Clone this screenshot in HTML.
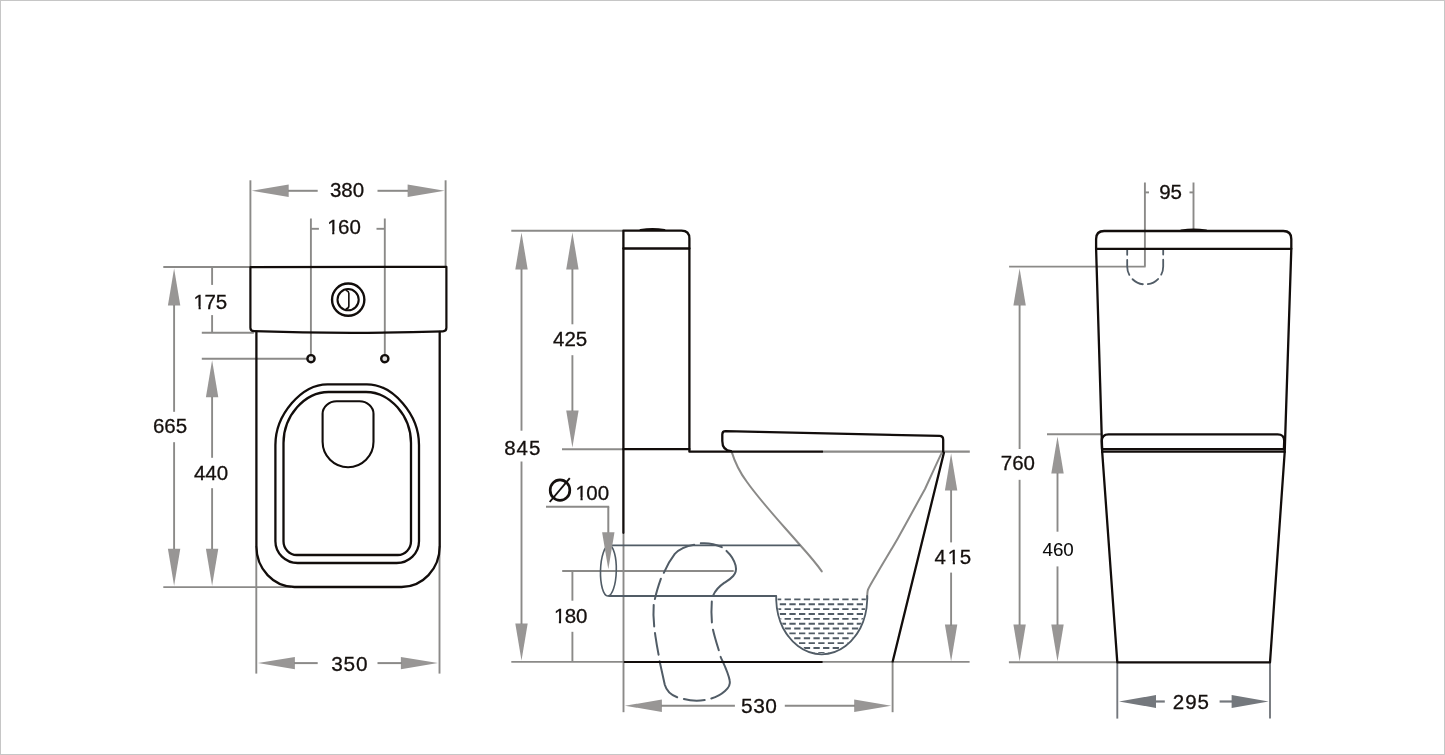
<!DOCTYPE html>
<html>
<head>
<meta charset="utf-8">
<title>Toilet dimensions</title>
<style>
html, body { margin: 0; padding: 0; background: #ffffff; }
body { width: 1445px; height: 755px; overflow: hidden; position: relative; }
#frame { position: absolute; left: 0; top: 0; width: 1443px; height: 753px; border: 1px solid #c6c6c6; }
svg { position: absolute; left: 0; top: 0; display: block; }
svg text { font-family: "Liberation Sans", sans-serif; }
svg { will-change: transform; opacity: 0.999; }
</style>
</head>
<body>
<div id="frame"></div>
<svg width="1445" height="755" viewBox="0 0 1445 755">
<line x1="250.4" y1="180.3" x2="250.4" y2="267" stroke="#8b8a88" stroke-width="1.9"/>
<line x1="445.6" y1="180.3" x2="445.6" y2="267" stroke="#8b8a88" stroke-width="1.9"/>
<polygon points="251.70,190.80 288.70,184.60 288.70,197.00" fill="#989695"/>
<line x1="288" y1="190.8" x2="317.7" y2="190.8" stroke="#8b8a88" stroke-width="2.0"/>
<polygon points="444.60,190.80 407.60,184.60 407.60,197.00" fill="#989695"/>
<line x1="377.5" y1="190.8" x2="408" y2="190.8" stroke="#8b8a88" stroke-width="2.0"/>
<line x1="310.9" y1="218.5" x2="310.9" y2="355" stroke="#8b8a88" stroke-width="1.9"/>
<line x1="384.8" y1="218.5" x2="384.8" y2="355" stroke="#8b8a88" stroke-width="1.9"/>
<line x1="310.9" y1="228.8" x2="318.9" y2="228.8" stroke="#8b8a88" stroke-width="1.9"/>
<line x1="376.5" y1="228.8" x2="384.8" y2="228.8" stroke="#8b8a88" stroke-width="1.9"/>
<line x1="163.3" y1="267.0" x2="250.4" y2="267.0" stroke="#8b8a88" stroke-width="1.9"/>
<line x1="201.8" y1="332.7" x2="253.8" y2="332.7" stroke="#8b8a88" stroke-width="1.9"/>
<line x1="201.8" y1="358.8" x2="307" y2="358.8" stroke="#8b8a88" stroke-width="1.9"/>
<line x1="163.3" y1="587.1" x2="291" y2="587.1" stroke="#8b8a88" stroke-width="1.9"/>
<polygon points="174.10,268.40 167.90,305.40 180.30,305.40" fill="#989695"/>
<line x1="174.1" y1="305" x2="174.1" y2="411.8" stroke="#8b8a88" stroke-width="1.9"/>
<polygon points="174.10,585.80 167.90,548.80 180.30,548.80" fill="#989695"/>
<line x1="174.1" y1="442.2" x2="174.1" y2="549" stroke="#8b8a88" stroke-width="1.9"/>
<line x1="212.1" y1="267" x2="212.1" y2="284.9" stroke="#8b8a88" stroke-width="1.9"/>
<line x1="212.1" y1="315.1" x2="212.1" y2="332.7" stroke="#8b8a88" stroke-width="1.9"/>
<polygon points="212.10,360.30 205.90,397.30 218.30,397.30" fill="#989695"/>
<line x1="212.1" y1="396.8" x2="212.1" y2="457.8" stroke="#8b8a88" stroke-width="1.9"/>
<polygon points="212.10,585.80 205.90,548.80 218.30,548.80" fill="#989695"/>
<line x1="212.1" y1="488.2" x2="212.1" y2="549" stroke="#8b8a88" stroke-width="1.9"/>
<line x1="256.3" y1="546" x2="256.3" y2="673.6" stroke="#8b8a88" stroke-width="1.9"/>
<line x1="439.5" y1="546" x2="439.5" y2="673.6" stroke="#8b8a88" stroke-width="1.9"/>
<polygon points="257.90,663.10 294.90,656.90 294.90,669.30" fill="#989695"/>
<line x1="294" y1="663.1" x2="317.7" y2="663.1" stroke="#8b8a88" stroke-width="2.0"/>
<polygon points="437.90,663.10 400.90,656.90 400.90,669.30" fill="#989695"/>
<line x1="377.5" y1="663.1" x2="402" y2="663.1" stroke="#8b8a88" stroke-width="2.0"/>
<path d="M250.4,267.2 L446.4,266.8 L446.4,327.8 Q446.4,331.3 442.9,331.4 Q348,334.3 253.9,331.2 Q250.4,331.1 250.4,327.8 Z" fill="none" stroke="#120d0b" stroke-width="2.2" stroke-linecap="round" stroke-linejoin="round" />
<path d="M256.40,332.00 L256.40,546.50 C256.40,568.77 273.54,587.00 294.50,587.00 L401.60,587.00 C422.55,587.00 439.70,568.77 439.70,546.50 L439.70,332.00" fill="none" stroke="#120d0b" stroke-width="2.3" stroke-linecap="round" stroke-linejoin="round" />
<path d="M275.40,445.00 C275.40,414.65 301.45,384.30 327.50,384.30 L366.90,384.30 C392.95,384.30 419.00,414.65 419.00,445.00 L419.00,541.30 C419.00,553.24 408.96,563.00 396.70,563.00 L297.70,563.00 C285.44,563.00 275.40,553.24 275.40,541.30 Z" fill="none" stroke="#120d0b" stroke-width="2.3" stroke-linecap="round" stroke-linejoin="round" />
<path d="M283.50,443.00 C283.50,415.97 304.65,392.00 328.50,392.00 L366.00,392.00 C389.85,392.00 411.00,415.97 411.00,443.00 L411.00,541.20 C411.00,548.79 405.06,555.00 397.80,555.00 L296.70,555.00 C289.44,555.00 283.50,548.79 283.50,541.20 Z" fill="none" stroke="#120d0b" stroke-width="2.3" stroke-linecap="round" stroke-linejoin="round" />
<path d="M322.6,441.8 L322.6,413.8 C322.6,406.9 328.9,401.3 336.6,401.3 L359.5,401.3 C367.2,401.3 373.5,406.9 373.5,413.8 L373.5,441.8 A25.45,25.45 0 0 1 322.6,441.8 Z" fill="none" stroke="#120d0b" stroke-width="2.1" stroke-linecap="round" stroke-linejoin="round" />
<circle cx="348.2" cy="299.65" r="16.15" fill="none" stroke="#120d0b" stroke-width="2.4"/>
<circle cx="348.1" cy="299.65" r="10.6" fill="none" stroke="#120d0b" stroke-width="2.1"/>
<path d="M346.4,290.4 Q348.7,291 348.85,293.2 L348.85,306.1 Q348.7,308.3 346.3,308.9" fill="none" stroke="#120d0b" stroke-width="1.6" stroke-linecap="round" stroke-linejoin="round" />
<circle cx="311.0" cy="358.7" r="3.6" fill="#e2e2e2" stroke="#120d0b" stroke-width="2.4"/>
<circle cx="384.8" cy="358.7" r="3.6" fill="#e2e2e2" stroke="#120d0b" stroke-width="2.4"/>
<text x="329.9" y="197.2" font-size="20.5" letter-spacing="0.0" fill="#15100e" stroke="#15100e" stroke-width="0.3" text-anchor="start" >380</text>
<text x="326.6" y="234.1" dx="0.6 -0.6 0" font-size="20.5" letter-spacing="0.0" fill="#15100e" stroke="#15100e" stroke-width="0.3" text-anchor="start" >160</text>
<rect x="327.56" y="231.17" width="4.61" height="4.43" fill="#ffffff"/>
<rect x="334.35" y="231.17" width="4.53" height="4.43" fill="#ffffff"/>
<text x="193.0" y="309.3" dx="0.6 -0.6 0" font-size="20.5" letter-spacing="0.0" fill="#15100e" stroke="#15100e" stroke-width="0.3" text-anchor="start" >175</text>
<rect x="193.96" y="306.37" width="4.61" height="4.43" fill="#ffffff"/>
<rect x="200.75" y="306.37" width="4.53" height="4.43" fill="#ffffff"/>
<text x="152.9" y="433.3" font-size="20.5" letter-spacing="0.0" fill="#15100e" stroke="#15100e" stroke-width="0.3" text-anchor="start" >665</text>
<text x="193.9" y="479.8" font-size="20.5" letter-spacing="0.0" fill="#15100e" stroke="#15100e" stroke-width="0.3" text-anchor="start" >440</text>
<text x="331.3" y="670.7" font-size="20.8" letter-spacing="0.75" fill="#15100e" stroke="#15100e" stroke-width="0.3" text-anchor="start" >350</text>
<line x1="511.3" y1="230.8" x2="623.4" y2="230.8" stroke="#8b8a88" stroke-width="1.9"/>
<line x1="562" y1="449.2" x2="623.4" y2="449.2" stroke="#8b8a88" stroke-width="1.9"/>
<line x1="511.3" y1="661.9" x2="623.4" y2="661.9" stroke="#8b8a88" stroke-width="1.9"/>
<line x1="821.8" y1="661.9" x2="969.6" y2="661.9" stroke="#8b8a88" stroke-width="1.9"/>
<line x1="821.8" y1="451.7" x2="969.8" y2="451.7" stroke="#8b8a88" stroke-width="2.2"/>
<polygon points="521.50,232.40 515.30,269.40 527.70,269.40" fill="#989695"/>
<line x1="521.5" y1="269" x2="521.5" y2="430.7" stroke="#8b8a88" stroke-width="1.9"/>
<polygon points="521.50,660.50 515.30,623.50 527.70,623.50" fill="#989695"/>
<line x1="521.5" y1="461.5" x2="521.5" y2="624" stroke="#8b8a88" stroke-width="1.9"/>
<polygon points="572.40,232.40 566.20,269.40 578.60,269.40" fill="#989695"/>
<line x1="572.4" y1="269" x2="572.4" y2="324.3" stroke="#8b8a88" stroke-width="1.9"/>
<polygon points="572.40,447.50 566.20,410.50 578.60,410.50" fill="#989695"/>
<line x1="572.4" y1="355.2" x2="572.4" y2="411" stroke="#8b8a88" stroke-width="1.9"/>
<line x1="562.2" y1="571.0" x2="733.7" y2="571.0" stroke="#8b8a88" stroke-width="1.9"/>
<line x1="572.4" y1="571" x2="572.4" y2="600.7" stroke="#8b8a88" stroke-width="1.9"/>
<line x1="572.4" y1="631.8" x2="572.4" y2="661.9" stroke="#8b8a88" stroke-width="1.9"/>
<line x1="546.0" y1="506.8" x2="609.2" y2="506.8" stroke="#8b8a88" stroke-width="2.0"/>
<line x1="608.3" y1="506.8" x2="608.3" y2="533" stroke="#8b8a88" stroke-width="2.0"/>
<line x1="623.5" y1="532.8" x2="623.5" y2="712.2" stroke="#8b8a88" stroke-width="1.9"/>
<line x1="892.6" y1="661.9" x2="892.6" y2="712.2" stroke="#8b8a88" stroke-width="1.9"/>
<polygon points="624.90,705.75 661.90,699.55 661.90,711.95" fill="#989695"/>
<line x1="661" y1="705.75" x2="734.9" y2="705.75" stroke="#8b8a88" stroke-width="2.0"/>
<polygon points="891.20,705.75 854.20,699.55 854.20,711.95" fill="#989695"/>
<line x1="784.8" y1="705.75" x2="855" y2="705.75" stroke="#8b8a88" stroke-width="2.0"/>
<polygon points="951.10,453.40 944.90,490.40 957.30,490.40" fill="#989695"/>
<line x1="951.1" y1="490" x2="951.1" y2="542.4" stroke="#8b8a88" stroke-width="1.9"/>
<polygon points="951.10,661.50 944.90,624.50 957.30,624.50" fill="#989695"/>
<line x1="951.1" y1="572.6" x2="951.1" y2="626" stroke="#8b8a88" stroke-width="1.9"/>
<path d="M731.6,451.6 C736,466 741,474 747,482 C762,503 780,522 800,545 C809,555 816,563 821.8,571.4" fill="none" stroke="#8b8a88" stroke-width="2.0" stroke-linecap="round" stroke-linejoin="round" />
<path d="M941.8,452.6 C935.2,466.5 930.5,477 925,489 C915,507 906,524 897.9,538.2 C890,552 883,563 876.3,574.8 C872,582 869,587 868,589.7 C867.2,592 867.2,595 867.2,599" fill="none" stroke="#8b8a88" stroke-width="2.0" stroke-linecap="round" stroke-linejoin="round" />
<line x1="608.3" y1="545.4" x2="800.2" y2="545.4" stroke="#515c66" stroke-width="1.8"/>
<line x1="608.3" y1="596.0" x2="776.2" y2="596.0" stroke="#515c66" stroke-width="1.8"/>
<ellipse cx="608.4" cy="570.7" rx="7.9" ry="25.3" transform="rotate(1.5 608.4 570.7)" fill="none" stroke="#515c66" stroke-width="1.6"/>
<polygon points="608.30,569.30 602.10,532.30 614.50,532.30" fill="#989695"/>
<path d="M776.2,596 L776.2,600 C776.6,612 779,620 783,628 C790,641 803,654.3 821.7,654.3 C840.5,654.3 853.5,641 860.4,628 C864.5,620 866.8,612 867.2,600 L867.2,596" fill="none" stroke="#515c66" stroke-width="1.8" stroke-linecap="round" stroke-linejoin="round" />
<clipPath id="wc"><path d="M777.6,596 L777.6,600 C778,612 780.4,620 784.2,627.5 C791,640 803.5,653 821.7,653 C840,653 852.4,640 859.2,627.5 C863,620 865.4,612 865.8,600 L865.8,596 Z"/></clipPath>
<g clip-path="url(#wc)">
<line x1="736.48" y1="599.40" x2="880" y2="599.40" stroke="#515c66" stroke-width="1.9" stroke-dasharray="6.3 3.32"/>
<line x1="741.29" y1="604.26" x2="880" y2="604.26" stroke="#515c66" stroke-width="1.9" stroke-dasharray="6.3 3.32"/>
<line x1="736.48" y1="609.12" x2="880" y2="609.12" stroke="#515c66" stroke-width="1.9" stroke-dasharray="6.3 3.32"/>
<line x1="741.29" y1="613.98" x2="880" y2="613.98" stroke="#515c66" stroke-width="1.9" stroke-dasharray="6.3 3.32"/>
<line x1="736.48" y1="618.84" x2="880" y2="618.84" stroke="#515c66" stroke-width="1.9" stroke-dasharray="6.3 3.32"/>
<line x1="741.29" y1="623.70" x2="880" y2="623.70" stroke="#515c66" stroke-width="1.9" stroke-dasharray="6.3 3.32"/>
<line x1="736.48" y1="628.56" x2="880" y2="628.56" stroke="#515c66" stroke-width="1.9" stroke-dasharray="6.3 3.32"/>
<line x1="741.29" y1="633.42" x2="880" y2="633.42" stroke="#515c66" stroke-width="1.9" stroke-dasharray="6.3 3.32"/>
<line x1="736.48" y1="638.28" x2="880" y2="638.28" stroke="#515c66" stroke-width="1.9" stroke-dasharray="6.3 3.32"/>
<line x1="741.29" y1="643.14" x2="880" y2="643.14" stroke="#515c66" stroke-width="1.9" stroke-dasharray="6.3 3.32"/>
<line x1="736.48" y1="648.00" x2="880" y2="648.00" stroke="#515c66" stroke-width="1.9" stroke-dasharray="6.3 3.32"/>
<line x1="741.29" y1="652.86" x2="880" y2="652.86" stroke="#515c66" stroke-width="1.9" stroke-dasharray="6.3 3.32"/>
</g>
<path d="M663.8,572.8 C666.5,566.5 670.5,559.5 674.8,553.9 C678.5,549.8 685,546.2 694.2,544.7" fill="none" stroke="#515c66" stroke-width="2.0" stroke-linecap="round" stroke-linejoin="round" />
<path d="M700.8,543.3 C708,542.7 715,544 721.8,547.2" fill="none" stroke="#515c66" stroke-width="2.0" stroke-linecap="round" stroke-linejoin="round" />
<path d="M726.5,550.9 C731,555 734.4,560.8 735.6,565.5 C736.6,570 735.5,573.5 733.2,576 C730,579.5 727,581 724.5,582.7 C720,585.8 715.5,590 713.1,595.6" fill="none" stroke="#515c66" stroke-width="2.0" stroke-linecap="round" stroke-linejoin="round" />
<path d="M660.9,578.7 C658.6,585.2 656.4,592 654.9,599.1" fill="none" stroke="#515c66" stroke-width="2.0" stroke-linecap="round" stroke-linejoin="round" />
<path d="M653.7,604.9 C653.2,612 653.4,619 654.2,626.4" fill="none" stroke="#515c66" stroke-width="2.0" stroke-linecap="round" stroke-linejoin="round" />
<path d="M655,633.1 C656,640.5 657.2,647.5 658.6,654.7" fill="none" stroke="#515c66" stroke-width="2.0" stroke-linecap="round" stroke-linejoin="round" />
<path d="M659.6,661.3 L664.8,684.8 C666.5,691 671,695 677.2,697.3" fill="none" stroke="#515c66" stroke-width="2.0" stroke-linecap="round" stroke-linejoin="round" />
<path d="M683.9,699 C690.5,700.8 698,701 704.7,700.1" fill="none" stroke="#515c66" stroke-width="2.0" stroke-linecap="round" stroke-linejoin="round" />
<path d="M711.3,698.5 C717,696.8 721.5,694.2 725,691 C729,687.5 730.6,684.5 729.7,680.5 C728,672 724,664.5 720.6,656.8" fill="none" stroke="#515c66" stroke-width="2.0" stroke-linecap="round" stroke-linejoin="round" />
<path d="M718.8,650.2 C716.5,643 714.5,636.5 713,629.8" fill="none" stroke="#515c66" stroke-width="2.0" stroke-linecap="round" stroke-linejoin="round" />
<path d="M711.9,622.4 C711.3,615.5 711.3,608.5 711.8,601.5" fill="none" stroke="#515c66" stroke-width="2.0" stroke-linecap="round" stroke-linejoin="round" />
<path d="M623.4,532.8 L623.4,230.6 L681.5,230.6 Q689.4,230.6 689.4,238.5 L689.4,451.7 L822,451.7" fill="none" stroke="#120d0b" stroke-width="2.3" stroke-linecap="round" stroke-linejoin="round" />
<line x1="623.4" y1="248.5" x2="689.4" y2="248.5" stroke="#120d0b" stroke-width="2.3" stroke-linecap="round"/>
<line x1="623.4" y1="449.1" x2="689.4" y2="449.1" stroke="#120d0b" stroke-width="2.3" stroke-linecap="round"/>
<path d="M640.5,230.1 Q652.5,227.9 664.5,230.1" fill="none" stroke="#120d0b" stroke-width="2.0" stroke-linecap="round" stroke-linejoin="round" />
<path d="M731,451.2 Q722.3,450.2 722.3,441 L722.3,434.4 Q722.3,431.1 725.6,431.1 L939.5,435.9 Q943.2,436 943.2,439.7 L943.2,451.7" fill="none" stroke="#120d0b" stroke-width="2.3" stroke-linecap="round" stroke-linejoin="round" />
<line x1="943.9" y1="452.8" x2="892.7" y2="661.5" stroke="#120d0b" stroke-width="2.3" stroke-linecap="round"/>
<line x1="624.5" y1="661.9" x2="821.8" y2="661.9" stroke="#120d0b" stroke-width="2.0" stroke-linecap="round"/>
<ellipse cx="560.0" cy="490.15" rx="9.8" ry="10.3" fill="none" stroke="#15100e" stroke-width="2.7"/>
<line x1="549.7" y1="502.0" x2="569.8" y2="478.1" stroke="#15100e" stroke-width="1.9"/>
<text x="574.9" y="500.1" dx="0.6 -0.6 0" font-size="20.5" letter-spacing="0.0" fill="#15100e" stroke="#15100e" stroke-width="0.3" text-anchor="start" >100</text>
<rect x="575.86" y="497.17" width="4.61" height="4.43" fill="#ffffff"/>
<rect x="582.65" y="497.17" width="4.53" height="4.43" fill="#ffffff"/>
<text x="553.0" y="346.0" font-size="20.5" letter-spacing="0.0" fill="#15100e" stroke="#15100e" stroke-width="0.3" text-anchor="start" >425</text>
<text x="504.2" y="455.4" font-size="20.5" letter-spacing="0.95" fill="#15100e" stroke="#15100e" stroke-width="0.3" text-anchor="start" >845</text>
<text x="553.3" y="623.4" dx="0.6 -0.6 0" font-size="20.5" letter-spacing="0.0" fill="#15100e" stroke="#15100e" stroke-width="0.3" text-anchor="start" >180</text>
<rect x="554.26" y="620.47" width="4.61" height="4.43" fill="#ffffff"/>
<rect x="561.05" y="620.47" width="4.53" height="4.43" fill="#ffffff"/>
<text x="741.1" y="713.1" font-size="20.9" letter-spacing="0.5" fill="#15100e" stroke="#15100e" stroke-width="0.3" text-anchor="start" >530</text>
<text x="934.6" y="563.9" dx="0 0.6 -0.6" font-size="20.5" letter-spacing="1.2" fill="#15100e" stroke="#15100e" stroke-width="0.3" text-anchor="start" >415</text>
<rect x="948.16" y="560.97" width="4.61" height="4.43" fill="#ffffff"/>
<rect x="954.95" y="560.97" width="4.53" height="4.43" fill="#ffffff"/>
<line x1="1144.9" y1="182.5" x2="1144.9" y2="266.6" stroke="#8b8a88" stroke-width="1.9"/>
<line x1="1193.5" y1="182.5" x2="1193.5" y2="229.5" stroke="#8b8a88" stroke-width="1.9"/>
<line x1="1144.9" y1="192.4" x2="1149" y2="192.4" stroke="#8b8a88" stroke-width="1.9"/>
<line x1="1189.5" y1="192.4" x2="1193.5" y2="192.4" stroke="#8b8a88" stroke-width="1.9"/>
<line x1="1009.1" y1="266.6" x2="1145.6" y2="266.6" stroke="#8b8a88" stroke-width="1.9"/>
<line x1="1047" y1="434.3" x2="1101" y2="434.3" stroke="#8b8a88" stroke-width="1.9"/>
<line x1="1008.9" y1="662.2" x2="1117" y2="662.2" stroke="#8b8a88" stroke-width="1.9"/>
<polygon points="1019.60,268.50 1013.40,305.50 1025.80,305.50" fill="#989695"/>
<line x1="1019.6" y1="305" x2="1019.6" y2="449" stroke="#8b8a88" stroke-width="1.9"/>
<polygon points="1019.60,661.60 1013.40,624.60 1025.80,624.60" fill="#989695"/>
<line x1="1019.6" y1="479.8" x2="1019.6" y2="625" stroke="#8b8a88" stroke-width="1.9"/>
<polygon points="1057.50,436.40 1051.30,473.40 1063.70,473.40" fill="#989695"/>
<line x1="1057.5" y1="473" x2="1057.5" y2="531.7" stroke="#8b8a88" stroke-width="1.9"/>
<polygon points="1057.50,661.60 1051.30,624.60 1063.70,624.60" fill="#989695"/>
<line x1="1057.5" y1="566.4" x2="1057.5" y2="625" stroke="#8b8a88" stroke-width="1.9"/>
<line x1="1117.3" y1="662.4" x2="1117.3" y2="718.6" stroke="#74787d" stroke-width="1.9"/>
<line x1="1270.0" y1="662.4" x2="1270.0" y2="718.6" stroke="#74787d" stroke-width="1.9"/>
<polygon points="1119.00,701.50 1156.00,695.10 1156.00,707.90" fill="#74787d"/>
<line x1="1155.5" y1="701.5" x2="1164.8" y2="701.5" stroke="#74787d" stroke-width="2.2"/>
<polygon points="1268.60,701.50 1231.60,695.10 1231.60,707.90" fill="#74787d"/>
<line x1="1219.6" y1="701.5" x2="1232" y2="701.5" stroke="#74787d" stroke-width="2.2"/>
<path d="M1127.2,249.5 L1127.2,266.4 A18,18 0 0 0 1163.2,266.4 L1163.2,249.5" fill="none" stroke="#515c66" stroke-width="1.8" stroke-linecap="round" stroke-linejoin="round" stroke-dasharray="5.3 5.2 15.2 5.4 11.5 5.1 11.5 5.4 15.2 5.2 6"/>
<path d="M1102.2,452 L1096.1,249 L1096.1,239 Q1096.1,231 1104.1,231 L1283.3,231 Q1291.3,231 1291.3,239 L1291.3,249 L1284.7,452" fill="none" stroke="#120d0b" stroke-width="2.3" stroke-linecap="round" stroke-linejoin="round" />
<line x1="1096.1" y1="248.8" x2="1291.3" y2="248.8" stroke="#120d0b" stroke-width="2.3" stroke-linecap="round"/>
<path d="M1181.3,230.4 Q1193.7,228.4 1206.1,230.4" fill="none" stroke="#120d0b" stroke-width="2.0" stroke-linecap="round" stroke-linejoin="round" />
<path d="M1102.0,449.2 L1101.7,441 Q1101.8,434.3 1108.5,434.3 L1277.6,434.3 Q1284.3,434.3 1284.2,441 L1283.9,449.2" fill="none" stroke="#120d0b" stroke-width="2.3" stroke-linecap="round" stroke-linejoin="round" />
<line x1="1102.2" y1="449.05" x2="1284.2" y2="449.05" stroke="#120d0b" stroke-width="2.2" stroke-linecap="round"/>
<line x1="1102.3" y1="451.6" x2="1284.0" y2="451.6" stroke="#120d0b" stroke-width="2.2" stroke-linecap="round"/>
<path d="M1102.2,452 L1117.3,662.4 L1270,662.4 L1284.7,452" fill="none" stroke="#120d0b" stroke-width="2.3" stroke-linecap="round" stroke-linejoin="round" />
<text x="1159.2" y="199.4" font-size="20.5" letter-spacing="0.0" fill="#15100e" stroke="#15100e" stroke-width="0.3" text-anchor="start" >95</text>
<text x="1000.8" y="470.4" font-size="20.5" letter-spacing="0.0" fill="#15100e" stroke="#15100e" stroke-width="0.3" text-anchor="start" >760</text>
<text x="1042.5" y="555.5" font-size="18.8" letter-spacing="-0.05" fill="#0a0a0a" stroke="#0a0a0a" stroke-width="0.1" text-anchor="start" >460</text>
<text x="1172.8" y="708.8" font-size="20.5" letter-spacing="1.0" fill="#15100e" stroke="#15100e" stroke-width="0.3" text-anchor="start" >295</text>
</svg>
</body>
</html>
